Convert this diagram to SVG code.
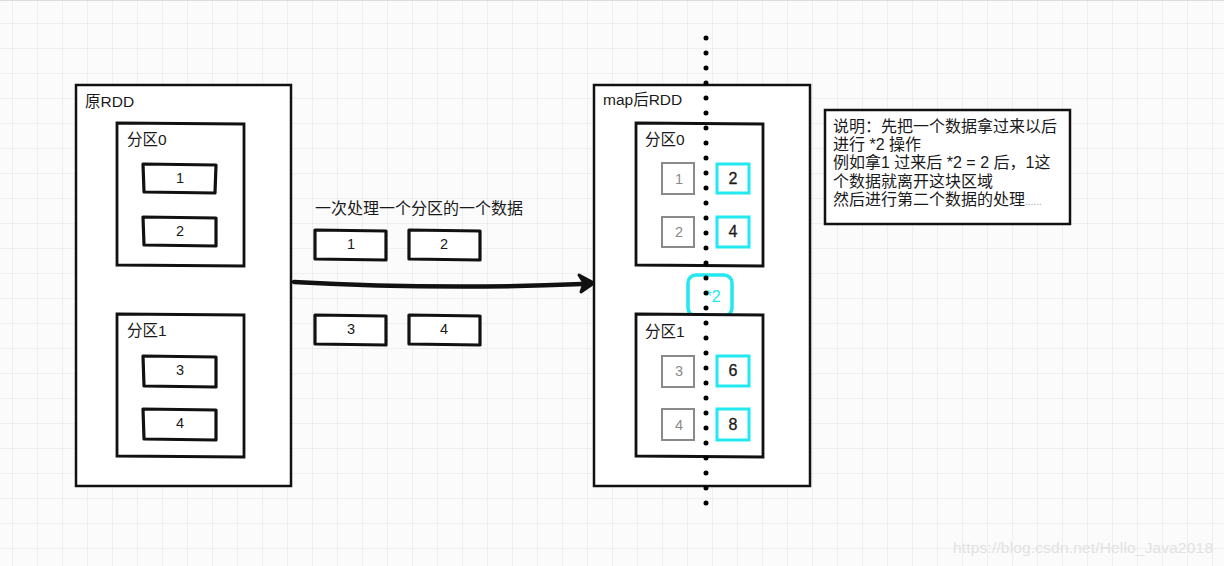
<svg xmlns="http://www.w3.org/2000/svg" width="1224" height="566" viewBox="0 0 1224 566">
<defs>
<pattern id="grid" patternUnits="userSpaceOnUse" x="12" y="23" width="25" height="25">
<path d="M0 0H25M0 0V25" fill="none" stroke="#ebebeb" stroke-width="1.5"/>
</pattern>
<style>
.t{font-family:"Liberation Sans","Noto Sans CJK SC",sans-serif;font-size:15.5px;fill:#1a1a1a}
.w{font-size:16px}
.n{font-family:"Liberation Sans","Noto Sans CJK SC",sans-serif;font-size:14.5px;fill:#1a1a1a;text-anchor:middle}
.b{font-size:16px;stroke:#1a1a1a;stroke-width:0.3}
.g{fill:#8a8a8a}
.big{fill:#fff;stroke:#111;stroke-width:2.5}
.part{fill:#fff;stroke:#111;stroke-width:2.8}
.box{fill:#fff;stroke:#111;stroke-width:3.2;stroke-linejoin:round}
.gbox{fill:#fff;stroke:#8a8a8a;stroke-width:2}
.cbox{fill:#fff;stroke:#22e8f0;stroke-width:3}
</style>
</defs>
<rect width="1224" height="566" fill="#fbfbfb"/>
<rect width="1224" height="566" fill="url(#grid)"/>
<line x1="0" y1="0.5" x2="1224" y2="0.5" stroke="#dcdcdc"/>

<g id="rdd-orig">
<rect class="big" x="76" y="85" width="215" height="401"/>
<text class="t" x="85" y="107">原RDD</text>
</g>
<g id="orig-p0">
<path class="part" d="M117 123L244 124L244 266L117 265Z"/>
<text class="t" x="127" y="145">分区0</text>
</g>
<g id="orig-1"><path class="box" d="M143 164L216 165L215 193L144 192Z"/><text class="n" x="180" y="183">1</text></g>
<g id="orig-2"><path class="box" d="M143 217L216 218L216 246L144 245Z"/><text class="n" x="180" y="236">2</text></g>
<g id="orig-p1">
<path class="part" d="M117 314L244 315L244 457L117 456Z"/>
<text class="t" x="127" y="336">分区1</text>
</g>
<g id="orig-3"><path class="box" d="M143 356L216 357L216 387L144 386Z"/><text class="n" x="180" y="375">3</text></g>
<g id="orig-4"><path class="box" d="M143 409L216 410L216 440L144 439Z"/><text class="n" x="180" y="428">4</text></g>

<g id="mid-label"><text class="t w" x="315" y="214">一次处理一个分区的一个数据</text></g>
<g id="mid-1"><path class="box" d="M315 230L386 231L386 260L315 259Z"/><text class="n" x="351" y="249">1</text></g>
<g id="mid-2"><path class="box" d="M409 230L480 231L480 260L409 259Z"/><text class="n" x="444" y="249">2</text></g>
<g id="mid-3"><path class="box" d="M315 315L386 316L386 345L315 344Z"/><text class="n" x="351" y="334">3</text></g>
<g id="mid-4"><path class="box" d="M409 315L480 316L480 345L409 344Z"/><text class="n" x="444" y="334">4</text></g>

<g id="connectors">
<path d="M294 282Q440 290 582 284" fill="none" stroke="#111" stroke-width="4.5" stroke-linecap="round"/>
<path d="M579 275L594 283L581 292L584 283Z" fill="#111" stroke="#111" stroke-width="3" stroke-linejoin="round"/>
</g>

<g id="rdd-map">
<rect class="big" x="594" y="85" width="216" height="401"/>
<text class="t" x="603" y="105">map后RDD</text>
</g>
<g id="map-p0">
<path class="part" d="M636 123L763 124L763 266L636 265Z"/>
<text class="t" x="645" y="145">分区0</text>
</g>
<g id="g1"><rect class="gbox" x="662" y="163" width="32" height="31"/><text class="n g" x="679" y="184">1</text></g>
<g id="g2"><rect class="gbox" x="662" y="217" width="32" height="30"/><text class="n g" x="679" y="237">2</text></g>
<g id="c2"><rect class="cbox" x="717" y="164" width="32" height="29"/><text class="n b" x="733" y="184">2</text></g>
<g id="c4"><rect class="cbox" x="717" y="217" width="32" height="30"/><text class="n b" x="733" y="237">4</text></g>
<g id="op">
<rect x="688" y="275" width="44" height="41" rx="8" fill="#fff" stroke="#22e8f0" stroke-width="3.5"/>
<text class="n" x="713" y="302" style="fill:#22e8f0;font-size:16px">*2</text>
</g>
<g id="map-p1">
<path class="part" d="M636 314L763 315L763 457L636 456Z"/>
<text class="t" x="645" y="337">分区1</text>
</g>
<g id="g3"><rect class="gbox" x="662" y="356" width="32" height="31"/><text class="n g" x="679" y="376">3</text></g>
<g id="g4"><rect class="gbox" x="662" y="409" width="32" height="31"/><text class="n g" x="679" y="430">4</text></g>
<g id="c6"><rect class="cbox" x="717" y="356" width="32" height="30"/><text class="n b" x="733" y="376">6</text></g>
<g id="c8"><rect class="cbox" x="717" y="409" width="32" height="31"/><text class="n b" x="733" y="430">8</text></g>

<g id="divider">
<line x1="706" y1="38" x2="706" y2="504" stroke="#000" stroke-width="5" stroke-linecap="round" stroke-dasharray="0 15"/>
</g>

<g id="note">
<rect x="825" y="110" width="245" height="114" fill="#fff" stroke="#111" stroke-width="2.5"/>
<text class="t w" x="833" y="132">说明：先把一个数据拿过来以后</text>
<text class="t w" x="833" y="150">进行 *2 操作</text>
<text class="t w" x="833" y="168">例如拿1 过来后 *2 = 2 后，1这</text>
<text class="t w" x="833" y="187">个数据就离开这块区域</text>
<text class="t w" x="833" y="205">然后进行第二个数据的处理<tspan style="fill:#9aa0b0;font-size:10px">......</tspan></text>
</g>

<text x="953" y="553" font-family="Liberation Sans, sans-serif" font-size="15.5" fill="#e2e2e2" textLength="260">https://blog.csdn.net/Hello_Java2018</text>
</svg>
